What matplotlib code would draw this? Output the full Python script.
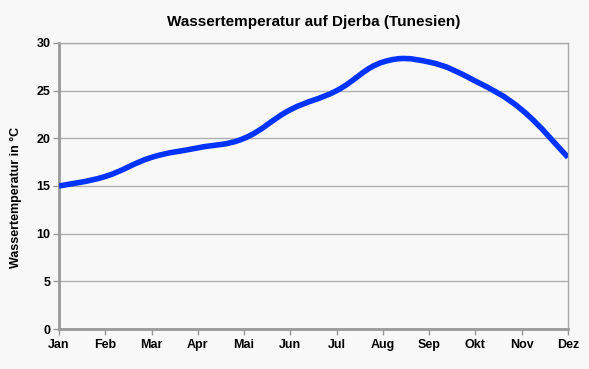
import matplotlib.pyplot as plt
import numpy as np
from matplotlib.path import Path
from matplotlib.patches import PathPatch

months = ["Jan", "Feb", "Mar", "Apr", "Mai", "Jun", "Jul", "Aug", "Sep", "Okt", "Nov", "Dez"]
water_temp = [15, 16, 18, 19, 20, 23, 25, 28, 28, 26, 23, 18]

plt.rcParams["font.family"] = ["Liberation Sans", "DejaVu Sans"]
plt.rcParams["font.weight"] = "bold"

BG = "#f8f8f8"


def smooth_path(x, y, tension=0.2):
    """Catmull-Rom style Bezier path through the points (like Excel's smoothed line)."""
    x = np.asarray(x, float)
    y = np.asarray(y, float)
    verts = [(x[0], y[0])]
    codes = [Path.MOVETO]
    n = len(x)
    for i in range(n - 1):
        p0 = i - 1 if i > 0 else i
        p3 = i + 2 if i + 2 < n else i + 1
        c1 = (x[i] + (x[i + 1] - x[p0]) * tension, y[i] + (y[i + 1] - y[p0]) * tension)
        c2 = (x[i + 1] - (x[p3] - x[i]) * tension, y[i + 1] - (y[p3] - y[i]) * tension)
        verts += [c1, c2, (x[i + 1], y[i + 1])]
        codes += [Path.CURVE4] * 3
    return Path(verts, codes)


fig = plt.figure(figsize=(5.89, 3.69), dpi=100, facecolor=BG)
ax = fig.add_axes([0.1002, 0.1084, 0.8641, 0.7751], facecolor=BG)

xs = np.arange(len(months))
patch = PathPatch(smooth_path(xs, water_temp), facecolor="none",
                  edgecolor="#0033ff", linewidth=4, capstyle="butt", zorder=3)
ax.add_patch(patch)

ax.set_xlim(0, len(months) - 1)
ax.set_ylim(0, 30)
ax.set_xticks(xs)
ax.set_xticklabels(months, fontsize=9, fontweight="bold")
ax.set_yticks(range(0, 31, 5))
ax.set_yticklabels([str(v) for v in range(0, 31, 5)], fontsize=9, fontweight="bold")
ax.yaxis.grid(True, color="#b0b0b0", linewidth=1)
ax.set_axisbelow(True)

for side in ["left", "bottom"]:
    ax.spines[side].set_color("#999999")
    ax.spines[side].set_linewidth(2)
for side in ["right", "top"]:
    ax.spines[side].set_color("#aaaaaa")
    ax.spines[side].set_linewidth(1)
ax.tick_params(axis="both", colors="#999999", labelcolor="black", length=4, width=1)
ax.tick_params(axis="y", pad=2)
ax.tick_params(axis="x", pad=3)

ax.set_ylabel("Wassertemperatur in °C", fontsize=9, fontweight="bold")
ax.yaxis.set_label_coords(-0.072, 0.46)
ax.set_title("Wassertemperatur auf Djerba (Tunesien)", fontsize=11, fontweight="bold", pad=12)

fig.savefig("out.png", dpi=100, facecolor=BG)
